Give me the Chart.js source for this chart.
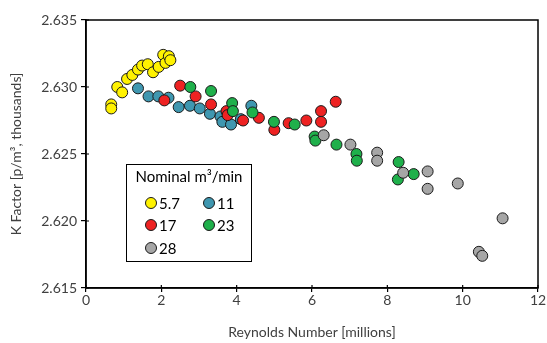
<!DOCTYPE html>
<html>
<head>
<meta charset="utf-8">
<script src="https://cdn.jsdelivr.net/npm/chart.js@4.4.1/dist/chart.umd.min.js"></script>
<style>
  html, body { margin: 0; padding: 0; background: #fff; }
</style>
</head>
<body>
<canvas id="myChart" width="547" height="343"></canvas>
<script>
// Reynolds number [millions] and K factor for each nominal flow rate
let seriesNames = ['5.7', '11', '17', '23', '28'];

let re57 = [0.67, 0.67, 0.83, 0.96, 1.09, 1.23, 1.38, 1.49, 1.64, 1.78, 1.93, 2.05, 2.11, 2.20, 2.24];
let k57  = [2.6287, 2.6284, 2.6300, 2.6296, 2.6306, 2.6309, 2.6313, 2.6316, 2.6317, 2.6311, 2.6315, 2.6324, 2.6318, 2.6323, 2.6320];

let re11 = [1.38, 1.66, 1.92, 2.19, 2.46, 2.76, 3.02, 3.29, 3.57, 3.62, 3.85, 4.11, 4.39];
let k11  = [2.6299, 2.6293, 2.6293, 2.6292, 2.6285, 2.6286, 2.6284, 2.6280, 2.6278, 2.6274, 2.6272, 2.6276, 2.6286];

let re17 = [2.08, 2.50, 2.91, 3.32, 3.73, 3.76, 4.17, 4.59, 5.00, 5.38, 5.85, 6.24, 6.24, 6.63];
let k17  = [2.6290, 2.6301, 2.6293, 2.6287, 2.6282, 2.6279, 2.6275, 2.6277, 2.6268, 2.6273, 2.6275, 2.6282, 2.6274, 2.6289];

let re23 = [2.77, 3.32, 3.88, 3.90, 4.42, 4.99, 5.54, 6.07, 6.09, 6.65, 7.18, 7.19, 8.30, 8.28, 8.70];
let k23  = [2.6300, 2.6297, 2.6288, 2.6282, 2.6281, 2.6274, 2.6272, 2.6263, 2.6260, 2.6257, 2.6250, 2.6245, 2.6244, 2.6231, 2.6235];

let re28 = [6.31, 7.02, 7.73, 7.73, 8.42, 9.07, 9.07, 9.87, 11.06, 10.43, 10.52];
let k28  = [2.6264, 2.6257, 2.6251, 2.6245, 2.6236, 2.6237, 2.6224, 2.6228, 2.6202, 2.6177, 2.6174];

let colors = ['#fff200', '#3f97b0', '#ee2222', '#1fb04b', '#a6a6a6'];

function toPoints(xs, ys) {
  let pts = [];
  for (let i = 0; i < xs.length; i++) {
    pts.push({ x: xs[i], y: ys[i] });
  }
  return pts;
}

let allX = [re57, re11, re17, re23, re28];
let allY = [k57, k11, k17, k23, k28];

let datasets = [];
for (let i = 0; i < seriesNames.length; i++) {
  datasets.push({
    label: seriesNames[i],
    data: toPoints(allX[i], allY[i]),
    backgroundColor: colors[i],
    borderColor: '#1a1a1a',
    borderWidth: 1,
    pointRadius: 5.5,
    pointHoverRadius: 5.5,
    order: seriesNames.length - i
  });
}

let fontFamily = 'Lato, "Open Sans", sans-serif';
let textColor = '#404040';

// box round the plot area, plus the little tick stubs that poke inside
let plotFrame = {
  id: 'plotFrame',
  beforeDatasetsDraw(chart) {
    let a = chart.chartArea;
    let ctx = chart.ctx;
    ctx.save();
    ctx.strokeStyle = '#000';
    ctx.lineWidth = 1.5;
    ctx.strokeRect(a.left, a.top, a.right - a.left, a.bottom - a.top);

    ctx.lineWidth = 1.2;
    ctx.beginPath();
    let xs = chart.scales.x;
    xs.ticks.forEach(t => {
      let px = xs.getPixelForValue(t.value);
      ctx.moveTo(px, a.bottom);
      ctx.lineTo(px, a.bottom - 3);
    });
    let ys = chart.scales.y;
    ys.ticks.forEach(t => {
      let py = ys.getPixelForValue(t.value);
      ctx.moveTo(a.left, py);
      ctx.lineTo(a.left + 3, py);
    });
    ctx.stroke();
    ctx.restore();
  }
};

// legend drawn inside the plot, two columns, like the original
let innerLegend = {
  id: 'innerLegend',
  afterDatasetsDraw(chart) {
    let ctx = chart.ctx;
    ctx.save();
    ctx.fillStyle = '#fff';
    ctx.fillRect(126, 164, 126, 98);
    ctx.strokeStyle = '#000';
    ctx.lineWidth = 1;
    ctx.strokeRect(126.5, 164.5, 125, 97);

    ctx.fillStyle = '#000';
    ctx.font = '15px ' + fontFamily;
    ctx.textBaseline = 'middle';
    ctx.textAlign = 'center';
    ctx.fillText('Nominal m³/min', 189, 177);

    let colX = [151, 209];
    let rowY = [203, 225, 248];
    chart.data.datasets.forEach((ds, i) => {
      let cx = colX[i % 2];
      let cy = rowY[Math.floor(i / 2)];
      ctx.beginPath();
      ctx.arc(cx, cy, 5.5, 0, Math.PI * 2);
      ctx.fillStyle = ds.backgroundColor;
      ctx.fill();
      ctx.lineWidth = 1;
      ctx.strokeStyle = '#1a1a1a';
      ctx.stroke();
      ctx.fillStyle = '#000';
      ctx.textAlign = 'left';
      ctx.font = '15px ' + fontFamily;
      ctx.fillText(ds.label, cx + 8, cy + 1);
    });
    ctx.restore();
  }
};

let canvas = document.getElementById('myChart');
let ctx = canvas.getContext('2d');

let myChart = new Chart(ctx, {
  type: 'scatter',
  data: { datasets: datasets },
  options: {
    responsive: false,
    animation: false,
    devicePixelRatio: 1,
    layout: { padding: { top: 20, right: 9, left: 8, bottom: 0 } },
    plugins: {
      legend: { display: false },
      tooltip: { enabled: false }
    },
    scales: {
      x: {
        type: 'linear',
        min: 0,
        max: 12,
        border: { display: true, color: '#000', width: 1.5 },
        grid: { drawOnChartArea: false, color: '#000', tickLength: 4, lineWidth: 1.2 },
        ticks: { stepSize: 2, color: textColor, font: { family: fontFamily, size: 14 }, padding: 0 },
        title: {
          display: true,
          text: 'Reynolds Number [millions]',
          color: textColor,
          font: { family: fontFamily, size: 14 },
          padding: { top: 0, bottom: 2 }
        },
        afterFit(scale) { scale.height = 55; }
      },
      y: {
        type: 'linear',
        min: 2.615,
        max: 2.635,
        border: { display: true, color: '#000', width: 1.5 },
        grid: { drawOnChartArea: false, color: '#000', tickLength: 5, lineWidth: 1.2 },
        ticks: {
          stepSize: 0.005,
          color: textColor,
          font: { family: fontFamily, size: 14 },
          padding: 4,
          callback: v => v.toFixed(3)
        },
        title: {
          display: true,
          text: 'K Factor [p/m³, thousands]',
          color: textColor,
          font: { family: fontFamily, size: 14 },
          padding: { top: 0, bottom: 0 }
        },
        afterFit(scale) { scale.width = 78; }
      }
    }
  },
  plugins: [plotFrame, innerLegend]
});
</script>
</body>
</html>
